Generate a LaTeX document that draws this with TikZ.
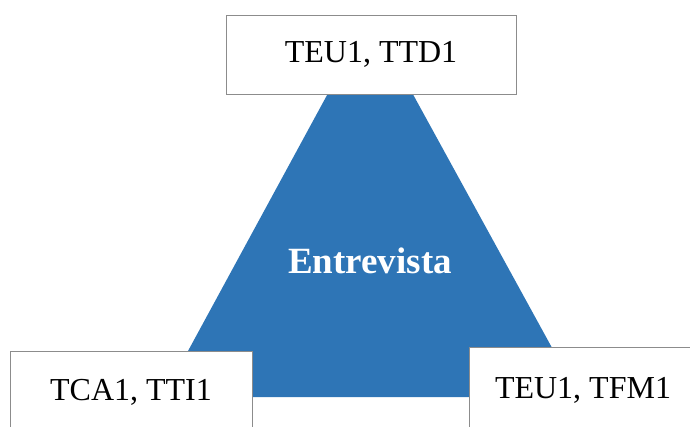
\documentclass[tikz,border=0pt]{standalone}
\usepackage{fontspec}
\setmainfont{Liberation Serif}
\definecolor{triblue}{HTML}{2E75B6}
\definecolor{boxgray}{HTML}{8C8C8C}
\begin{document}
\begin{tikzpicture}[x=1pt,y=-1pt,
  lbox/.style={draw=boxgray,line width=1pt,fill=white,inner sep=0pt,font=\fontsize{32}{36}\selectfont},
  ]
\useasboundingbox (0,0) rectangle (690,426);
\clip (0,0) rectangle (690,426);
\fill[triblue] (370,16) -- (579,397) -- (163,397) -- cycle;
\node[font=\bfseries\fontsize{37}{40}\selectfont,text=white] (lab) at (370,261) {Entrevista};
\node[lbox,minimum width=290pt,minimum height=79pt] (top) at (371,54.5) {TEU1, TTD1};
\node[lbox,minimum width=242pt,minimum height=82pt] (bl) at (131,392) {TCA1, TTI1};
\node[lbox,minimum width=228pt,minimum height=87pt] (br) at (583,390.5) {TEU1, TFM1};
\end{tikzpicture}
\end{document}
